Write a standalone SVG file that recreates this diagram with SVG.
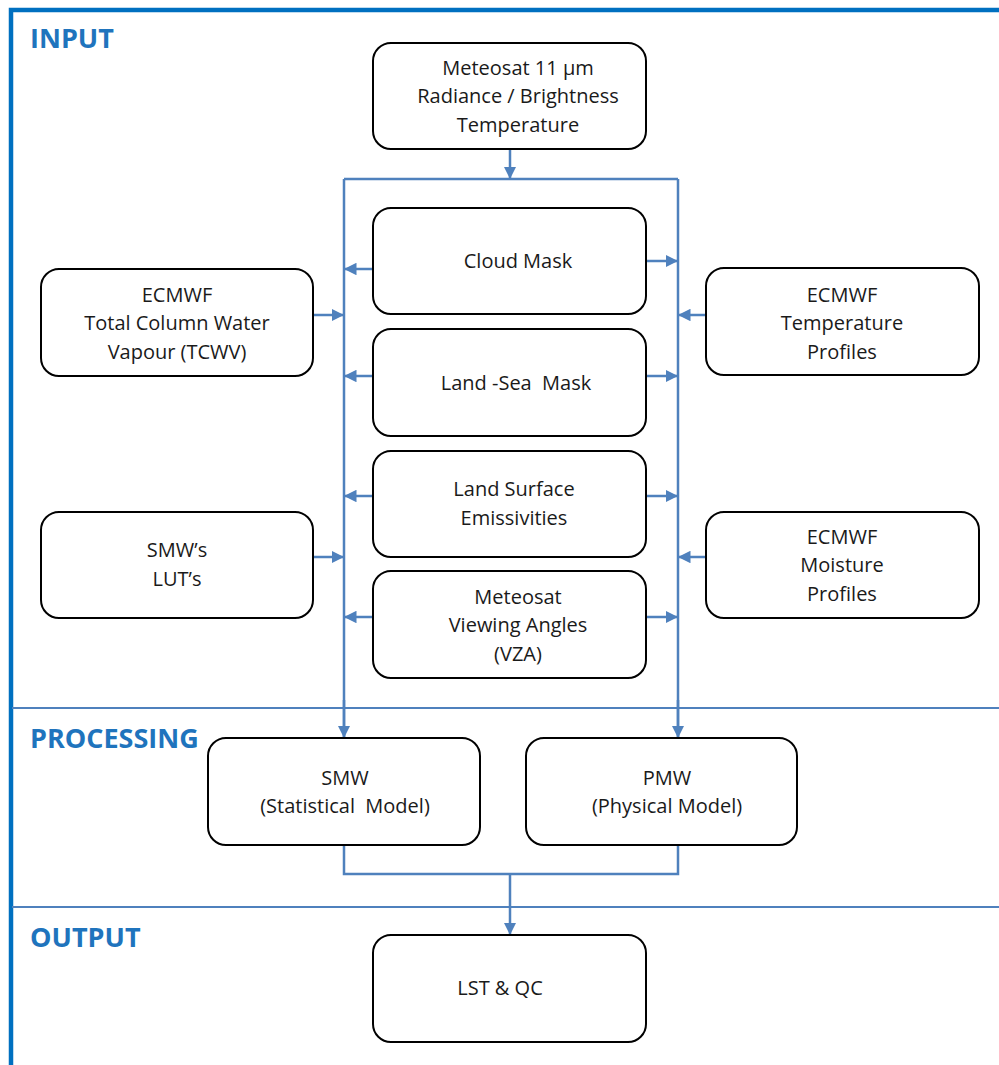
<svg xmlns="http://www.w3.org/2000/svg" width="999" height="1065" viewBox="0 0 999 1065">
<style>
.frame{fill:none;stroke:#0070C0;stroke-width:4.5}
.sep{fill:none;stroke:#4F81BD;stroke-width:2}
.box{fill:#fff;stroke:#000;stroke-width:2}
.c{fill:none;stroke:#4F81BD;stroke-width:2.5}
.t{font-family:"Open Sans","Liberation Sans",sans-serif;font-size:20px;fill:#1a1a1a;text-anchor:middle;white-space:pre}
.h{font-family:"Open Sans","Liberation Sans",sans-serif;font-size:27px;font-weight:bold;fill:#1F74BD}
</style>
<defs>
<marker id="a" viewBox="0 0 10 10" refX="10" refY="5" markerWidth="5" markerHeight="5" markerUnits="strokeWidth" orient="auto"><path d="M0,0L10,5L0,10z" fill="#4F81BD"/></marker>
</defs>
<rect width="999" height="1065" fill="#fff"/>
<g id="frame">
<path class="frame" d="M11,1065V10H999"/>
<path class="sep" d="M12,708H999M12,907H999"/>
<text class="h" x="30" y="48">INPUT</text>
<text class="h" x="30" y="748">PROCESSING</text>
<text class="h" x="30" y="947">OUTPUT</text>
</g>
<g id="connectors">
<path class="c" d="M510,150V179" marker-end="url(#a)"/>
<path class="c" d="M344,179H678M344,179V738M678,179V738" />
<path class="c" d="M344,700V738" marker-end="url(#a)"/>
<path class="c" d="M678,700V738" marker-end="url(#a)"/>
<path class="c" d="M373,269H344" marker-end="url(#a)"/>
<path class="c" d="M646,261H678" marker-end="url(#a)"/>
<path class="c" d="M373,376H344" marker-end="url(#a)"/>
<path class="c" d="M646,376H678" marker-end="url(#a)"/>
<path class="c" d="M373,496H344" marker-end="url(#a)"/>
<path class="c" d="M646,496H678" marker-end="url(#a)"/>
<path class="c" d="M373,617H344" marker-end="url(#a)"/>
<path class="c" d="M646,617H678" marker-end="url(#a)"/>
<path class="c" d="M313,315H344" marker-end="url(#a)"/>
<path class="c" d="M706,315H678" marker-end="url(#a)"/>
<path class="c" d="M313,557H344" marker-end="url(#a)"/>
<path class="c" d="M706,557H678" marker-end="url(#a)"/>
<path class="c" d="M344,845V874H678V845"/>
<path class="c" d="M510,874V935" marker-end="url(#a)"/>
</g>
<g id="meteosat"><rect class="box" x="373" y="43" width="273" height="106" rx="18"/>
<text class="t" x="518" y="75">Meteosat 11 µm</text><text class="t" x="518" y="103">Radiance / Brightness</text><text class="t" x="518" y="132">Temperature</text></g>
<g id="cloud"><rect class="box" x="373" y="208" width="273" height="106" rx="18"/><text class="t" x="518" y="268">Cloud Mask</text></g>
<g id="landsea"><rect class="box" x="373" y="329" width="273" height="107" rx="18"/><text class="t" x="516" y="390" xml:space="preserve">Land -Sea  Mask</text></g>
<g id="emis"><rect class="box" x="373" y="451" width="273" height="106" rx="18"/><text class="t" x="514" y="496">Land Surface</text><text class="t" x="514" y="525">Emissivities</text></g>
<g id="vza"><rect class="box" x="373" y="571" width="273" height="107" rx="18"/><text class="t" x="518" y="604">Meteosat</text><text class="t" x="518" y="632">Viewing Angles</text><text class="t" x="518" y="661">(VZA)</text></g>
<g id="tcwv"><rect class="box" x="41" y="269" width="272" height="107" rx="18"/><text class="t" x="177" y="302">ECMWF</text><text class="t" x="177" y="330">Total Column Water</text><text class="t" x="177" y="359">Vapour (TCWV)</text></g>
<g id="temp"><rect class="box" x="706" y="268" width="273" height="107" rx="18"/><text class="t" x="842" y="302">ECMWF</text><text class="t" x="842" y="330">Temperature</text><text class="t" x="842" y="359">Profiles</text></g>
<g id="lut"><rect class="box" x="41" y="512" width="272" height="106" rx="18"/><text class="t" x="177" y="557">SMW’s</text><text class="t" x="177" y="586">LUT’s</text></g>
<g id="moist"><rect class="box" x="706" y="512" width="273" height="106" rx="18"/><text class="t" x="842" y="544">ECMWF</text><text class="t" x="842" y="572">Moisture</text><text class="t" x="842" y="601">Profiles</text></g>
<g id="smw"><rect class="box" x="208" y="738" width="272" height="107" rx="18"/><text class="t" x="345" y="785">SMW</text><text class="t" x="345" y="813" xml:space="preserve">(Statistical  Model)</text></g>
<g id="pmw"><rect class="box" x="526" y="738" width="271" height="107" rx="18"/><text class="t" x="667" y="785">PMW</text><text class="t" x="667" y="813">(Physical Model)</text></g>
<g id="lst"><rect class="box" x="373" y="935" width="273" height="107" rx="18"/><text class="t" x="500" y="995">LST &amp; QC</text></g>
</svg>
